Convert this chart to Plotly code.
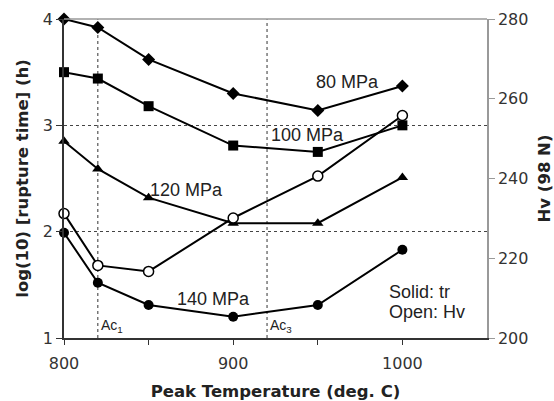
import plotly.graph_objects as go

temps = [800, 820, 850, 900, 950, 1000]
tr_80 = [4.00, 3.92, 3.62, 3.30, 3.14, 3.37]
tr_100 = [3.50, 3.44, 3.18, 2.81, 2.75, 3.00]
tr_120 = [2.85, 2.59, 2.32, 2.08, 2.08, 2.51]
tr_140 = [1.99, 1.52, 1.31, 1.20, 1.31, 1.83]
hv = [231.2, 218.2, 216.7, 230.1, 240.6, 255.8]
ac_temps = [820, 920]
ac_labels = ["Ac<sub>1</sub>", "Ac<sub>3</sub>"]
x_ticks = [800, 850, 900, 950, 1000]
x_ticktext = ["800", "", "900", "", "1000"]
y_ticks = [1, 2, 3, 4]
y2_ticks = [200, 220, 240, 260, 280]

series = [
    ("80 MPa", tr_80, "diamond", 967.5, 3.41),
    ("100 MPa", tr_100, "square", 944, 2.905),
    ("120 MPa", tr_120, "triangle-up", 872.5, 2.39),
    ("140 MPa", tr_140, "circle", 888.5, 1.37),
]

fig = go.Figure()
for name, vals, sym, _, _ in series:
    fig.add_trace(go.Scatter(
        x=temps, y=vals, mode="lines+markers", name=name,
        line=dict(color="black", width=2),
        marker=dict(symbol=sym, size=10, color="black"),
        yaxis="y", showlegend=False, cliponaxis=False))

fig.add_trace(go.Scatter(
    x=temps, y=hv, mode="lines+markers", name="Hv",
    line=dict(color="black", width=2),
    marker=dict(symbol="circle", size=10, color="white", line=dict(color="black", width=1.5)),
    yaxis="y2", showlegend=False, cliponaxis=False))

for t in ac_temps:
    fig.add_shape(type="line", xref="x", yref="paper", x0=t, x1=t, y0=0, y1=1,
                  line=dict(color="#333", width=1, dash="3px,3px"), layer="below")

# top border
fig.add_shape(type="line", xref="paper", yref="paper", x0=0, x1=1, y0=1, y1=1,
              line=dict(color="#999", width=1.5))

lab_font = dict(family="Liberation Sans, Arial", size=18, color="#222")
for name, _, _, lx, ly in series:
    fig.add_annotation(x=lx, y=ly, xref="x", yref="y", text=name, showarrow=False,
                       font=lab_font, xanchor="center", yanchor="middle")
fig.add_annotation(x=991, y=1.43, xref="x", yref="y", text="Solid: tr",
                   showarrow=False, font=lab_font, xanchor="left", yanchor="middle")
fig.add_annotation(x=991, y=1.24, xref="x", yref="y", text="Open: Hv",
                   showarrow=False, font=lab_font, xanchor="left", yanchor="middle")
for t, lab in zip(ac_temps, ac_labels):
    fig.add_annotation(x=t, y=1.11, xref="x", yref="y", text=lab, showarrow=False,
                       font=dict(family="Liberation Sans, Arial", size=14, color="#222"),
                       xanchor="left", yanchor="middle", xshift=1)

tick_font = dict(family="DejaVu Sans, Verdana", size=16, color="#333")
title_font = dict(family="DejaVu Sans, Verdana", size=16.5, color="#222", weight="bold")

fig.update_layout(
    width=554, height=401,
    margin=dict(l=64, r=67, t=19, b=63, autoexpand=False),
    plot_bgcolor="white", paper_bgcolor="white",
    xaxis=dict(range=[800, 1050], tickvals=x_ticks, ticktext=x_ticktext, automargin=False,
               ticks="outside", ticklen=5, tickcolor="#333", showgrid=False, zeroline=False,
               showline=True, linecolor="#333", linewidth=1.5, tickfont=tick_font,
               ticklabelstandoff=5,
               title=dict(text="Peak Temperature (deg. C)", font=title_font, standoff=16)),
    yaxis=dict(range=[1, 4], tickvals=y_ticks, ticks="outside", ticklen=6, tickcolor="#333",
               showgrid=True, gridcolor="#444", griddash="dot", gridwidth=1, automargin=False,
               zeroline=False, showline=True, linecolor="#333", linewidth=1.5,
               tickfont=tick_font,
               title=dict(text="log(10) [rupture time] (h)", font=title_font, standoff=10)),
    yaxis2=dict(range=[200, 280], tickvals=y2_ticks, overlaying="y", side="right",
                anchor="x", ticks="outside", ticklen=6, tickcolor="#999", automargin=False,
                showgrid=False, zeroline=False, showline=True, linecolor="#999", linewidth=1.5,
                tickfont=tick_font,
                title=dict(text="Hv (98 N)", font=title_font, standoff=12)),
)

fig.write_html("out.html")
